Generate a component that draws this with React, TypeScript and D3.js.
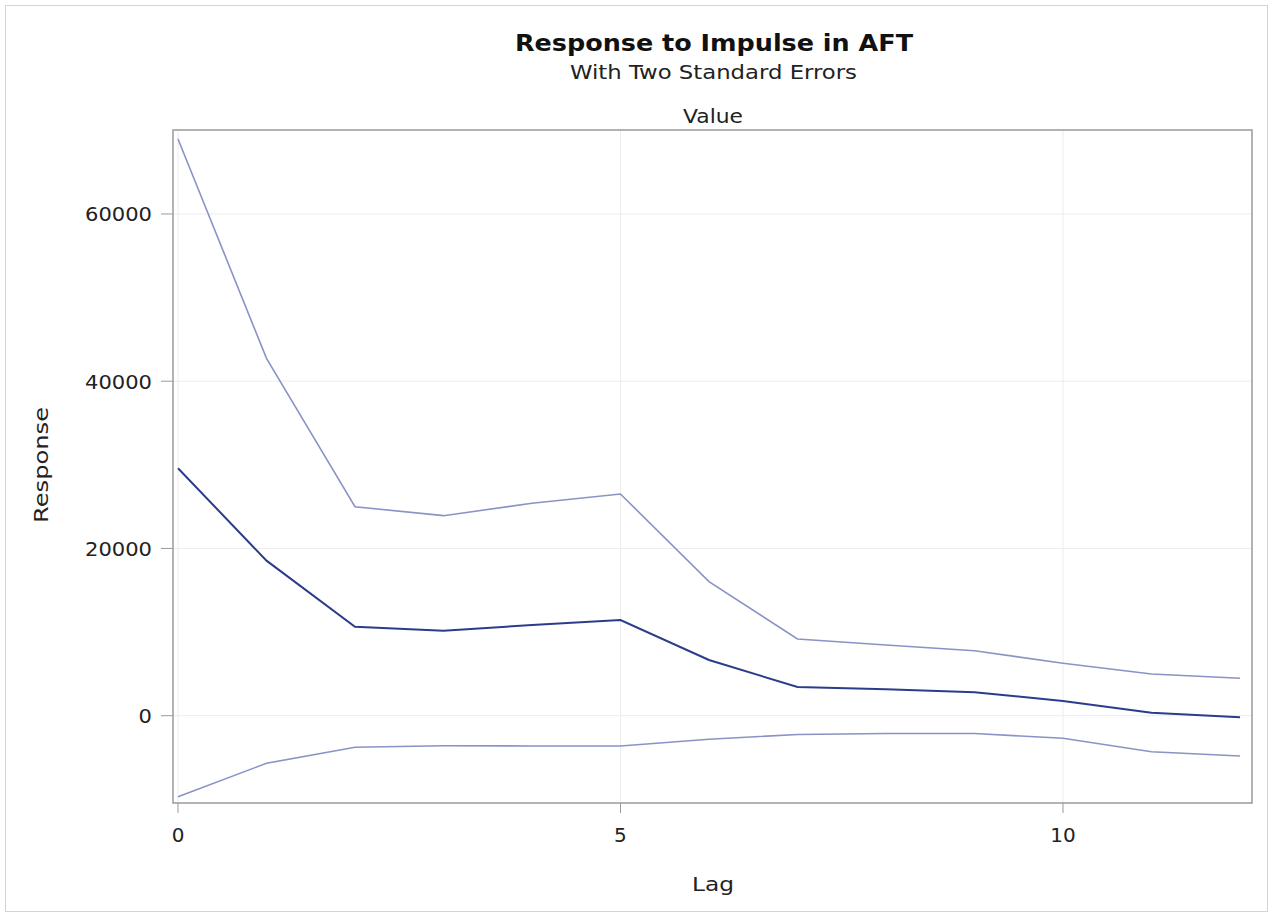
import React from "react";
import * as d3 from "d3";

const lags = [0, 1, 2, 3, 4, 5, 6, 7, 8, 9, 10, 11, 12];
const responseValues = [29590, 18540, 10640, 10170, 10850, 11440, 6660, 3430, 3160, 2800, 1760, 360, -190];
const upperValues = [68970, 42740, 24990, 23920, 25400, 26510, 16030, 9170, 8450, 7770, 6270, 4990, 4470];
const lowerValues = [-9690, -5690, -3780, -3590, -3620, -3620, -2820, -2250, -2130, -2130, -2700, -4310, -4820];
const yTicks = [0, 20000, 40000, 60000];
const xTicks = [0, 5, 10];

const W = 1274;
const H = 913;
const left = 173;
const right = 1252;
const top = 130;
const bottom = 803;

export default function App() {
  const x = d3.scaleLinear().domain([-0.0565, 12.136]).range([left, right]);
  const y = d3.scaleLinear().domain([-10440, 70040]).range([bottom, top]);
  const line = d3
    .line<number>()
    .x((_, i) => x(lags[i]))
    .y((d) => y(d));
  const font = "'DejaVu Sans', 'Liberation Sans', sans-serif";

  return (
    <div style={{ position: "absolute", left: 0, top: 0 }}>
      <svg width={W} height={H} style={{ display: "block", background: "#fff" }}>
        <rect x={5.5} y={5.5} width={1262} height={906} fill="#fff" stroke="#d4d4d4" strokeWidth={1} />
        <text x={714} y={51} textAnchor="middle" fontFamily={font} fontSize={23} fontWeight="bold" fill="#111"
          textLength={398} lengthAdjust="spacingAndGlyphs">
          Response to Impulse in AFT
        </text>
        <text x={713.5} y={79} textAnchor="middle" fontFamily={font} fontSize={19} fill="#222"
          textLength={287} lengthAdjust="spacingAndGlyphs">
          With Two Standard Errors
        </text>
        <text x={713} y={123} textAnchor="middle" fontFamily={font} fontSize={19} fill="#222"
          textLength={60} lengthAdjust="spacingAndGlyphs">
          Value
        </text>

        {yTicks.map((t) => (
          <line key={"gy" + t} x1={left} x2={right} y1={y(t)} y2={y(t)} stroke="#ececec" strokeWidth={1} />
        ))}
        {xTicks.map((t) => (
          <line key={"gx" + t} x1={x(t)} x2={x(t)} y1={top} y2={bottom} stroke="#ececec" strokeWidth={1} />
        ))}

        <path d={line(upperValues) || ""} fill="none" stroke="#8a93c5" strokeWidth={1.6} />
        <path d={line(lowerValues) || ""} fill="none" stroke="#8a93c5" strokeWidth={1.6} />
        <path d={line(responseValues) || ""} fill="none" stroke="#2c3c8a" strokeWidth={2} />

        <rect x={left} y={top} width={right - left} height={bottom - top} fill="none" stroke="#9a9a9a" strokeWidth={1.5} />

        {yTicks.map((t) => (
          <g key={"ty" + t}>
            <line x1={161} x2={left} y1={y(t)} y2={y(t)} stroke="#9a9a9a" strokeWidth={1} />
            <text x={152} y={y(t) + 7.5} textAnchor="end" fontFamily={font} fontSize={20} fill="#222"
              textLength={String(t).length * 13.4} lengthAdjust="spacingAndGlyphs">
              {t}
            </text>
          </g>
        ))}
        {xTicks.map((t) => (
          <g key={"tx" + t}>
            <line x1={x(t)} x2={x(t)} y1={bottom} y2={bottom + 10} stroke="#9a9a9a" strokeWidth={1} />
            <text x={x(t)} y={842} textAnchor="middle" fontFamily={font} fontSize={20} fill="#222">
              {t}
            </text>
          </g>
        ))}

        <text x={713} y={891} textAnchor="middle" fontFamily={font} fontSize={20} fill="#222"
          textLength={42} lengthAdjust="spacingAndGlyphs">
          Lag
        </text>
        <text
          transform={`translate(48, 465) rotate(-90)`}
          textAnchor="middle"
          fontFamily={font}
          fontSize={20}
          fill="#222"
          textLength={116}
          lengthAdjust="spacingAndGlyphs"
        >
          Response
        </text>
      </svg>
    </div>
  );
}
